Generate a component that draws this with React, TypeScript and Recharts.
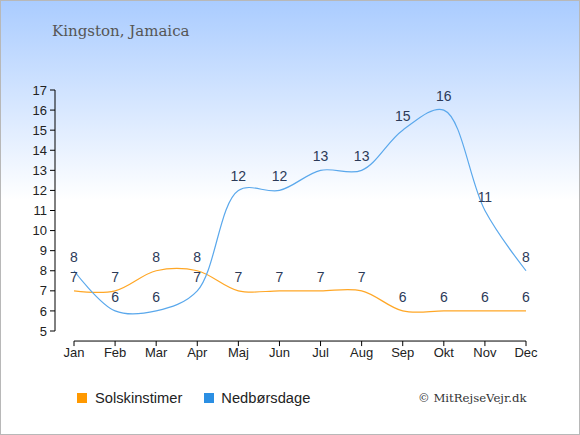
import { LineChart, Line, XAxis, YAxis, LabelList, ReferenceLine } from 'recharts'

const months = ['Jan', 'Feb', 'Mar', 'Apr', 'Maj', 'Jun', 'Jul', 'Aug', 'Sep', 'Okt', 'Nov', 'Dec']
const solskinstimer = [7, 7, 8, 8, 7, 7, 7, 7, 6, 6, 6, 6]
const nedboersdage = [8, 6, 6, 7, 12, 12, 13, 13, 15, 16, 11, 8]
const yTicks = [5, 6, 7, 8, 9, 10, 11, 12, 13, 14, 15, 16, 17]

const data = months.map((m, i) => ({ month: m, sol: solskinstimer[i], regn: nedboersdage[i] }))

const ORANGE = '#ffa726'
const BLUE = '#5aa8ec'
const LABEL = '#2c3a58'

// centripetal catmull-rom (alpha 0.5), same maths as d3's curveCatmullRom
function smoothCurve(context: any) {
  let pts: number[][] = []
  const dist = (a: number[], b: number[]) => Math.hypot(b[0] - a[0], b[1] - a[1])
  return {
    areaStart() {},
    areaEnd() {},
    lineStart() {
      pts = []
    },
    point(x: number, y: number) {
      pts.push([+x, +y])
    },
    lineEnd() {
      if (!pts.length) return
      context.moveTo(pts[0][0], pts[0][1])
      for (let i = 0; i < pts.length - 1; i++) {
        const p0 = pts[i - 1]
        const p1 = pts[i]
        const p2 = pts[i + 1]
        const p3 = pts[i + 2]
        const l12 = dist(p1, p2)
        const l12a = Math.sqrt(l12)
        let c1 = p1
        let c2 = p2
        if (p0) {
          const l01 = dist(p0, p1)
          const l01a = Math.sqrt(l01)
          if (l01a > 1e-6) {
            const a = 2 * l01 + 3 * l01a * l12a + l12
            const n = 3 * l01a * (l01a + l12a)
            c1 = [(p1[0] * a - p0[0] * l12 + p2[0] * l01) / n, (p1[1] * a - p0[1] * l12 + p2[1] * l01) / n]
          }
        }
        if (p3) {
          const l23 = dist(p2, p3)
          const l23a = Math.sqrt(l23)
          if (l23a > 1e-6) {
            const b = 2 * l23 + 3 * l23a * l12a + l12
            const m = 3 * l23a * (l23a + l12a)
            c2 = [(p2[0] * b + p1[0] * l23 - p3[0] * l12) / m, (p2[1] * b + p1[1] * l23 - p3[1] * l12) / m]
          }
        }
        context.bezierCurveTo(c1[0], c1[1], c2[0], c2[1], p2[0], p2[1])
      }
    },
  }
}

const tickStyle = { fill: '#222', fontSize: 13, fontFamily: 'Liberation Sans, Arial, sans-serif' }

export default function App() {
  return (
    <div
      style={{
        position: 'absolute',
        left: 0,
        top: 0,
        width: 580,
        height: 435,
        boxSizing: 'border-box',
        border: '1px solid #b8b8b8',
        background: 'linear-gradient(#aaccff 0%, #ffffff 46%, #ffffff 100%)',
        fontFamily: 'Liberation Sans, Arial, sans-serif',
      }}
    >
      <div
        style={{
          position: 'absolute',
          left: 51,
          top: 21,
          fontFamily: 'DejaVu Serif, serif',
          fontSize: 15,
          color: '#555',
        }}
      >
        Kingston, Jamaica
      </div>
      <div style={{ position: 'absolute', left: -1, top: -1 }}>
        <LineChart width={580} height={435} data={data} margin={{ top: 90, right: 50, bottom: 74, left: 0 }}>
          <XAxis
            dataKey="month"
            axisLine={false}
            tickLine={false}
            tickSize={0}
            tickMargin={17}
            padding={{ left: 19, right: 4 }}
            tick={tickStyle}
            interval={0}
            height={30}
          />
          <YAxis
            domain={[5, 17]}
            ticks={yTicks}
            interval={0}
            width={55}
            tickSize={5}
            tickMargin={3}
            axisLine={{ stroke: '#000' }}
            tickLine={{ stroke: '#000' }}
            tick={tickStyle}
          />
          <ReferenceLine
            segment={[
              { x: 'Jan', y: 4.5 },
              { x: 'Dec', y: 4.5 },
            ]}
            stroke="#000"
            ifOverflow="visible"
          />
          {months.map((m) => (
            <ReferenceLine
              key={m}
              segment={[
                { x: m, y: 4.5 },
                { x: m, y: 4.25 },
              ]}
              stroke="#000"
              ifOverflow="visible"
            />
          ))}
          <Line
            dataKey="sol"
            type={smoothCurve as any}
            stroke={ORANGE}
            strokeWidth={1.2}
            dot={false}
            activeDot={false}
            isAnimationActive={false}
          >
            <LabelList dataKey="sol" position="top" offset={9} fill={LABEL} fontSize={14} />
          </Line>
          <Line
            dataKey="regn"
            type={smoothCurve as any}
            stroke={BLUE}
            strokeWidth={1.2}
            dot={false}
            activeDot={false}
            isAnimationActive={false}
          >
            <LabelList dataKey="regn" position="top" offset={9} fill={LABEL} fontSize={14} />
          </Line>
        </LineChart>
      </div>
      <div style={{ position: 'absolute', left: 76, top: 389, display: 'flex', alignItems: 'center', fontSize: 14.7, color: '#222' }}>
        <span style={{ width: 10, height: 10, background: '#ff9900', display: 'inline-block', marginRight: 8 }} />
        <span style={{ marginRight: 22 }}>Solskinstimer</span>
        <span style={{ width: 10, height: 10, background: '#2b8fe3', display: 'inline-block', marginRight: 7 }} />
        <span>Nedbørsdage</span>
      </div>
      <div
        style={{
          position: 'absolute',
          left: 417,
          top: 390,
          fontFamily: 'DejaVu Serif, serif',
          fontSize: 11.7,
          color: '#333',
        }}
      >
        © MitRejseVejr.dk
      </div>
    </div>
  )
}
